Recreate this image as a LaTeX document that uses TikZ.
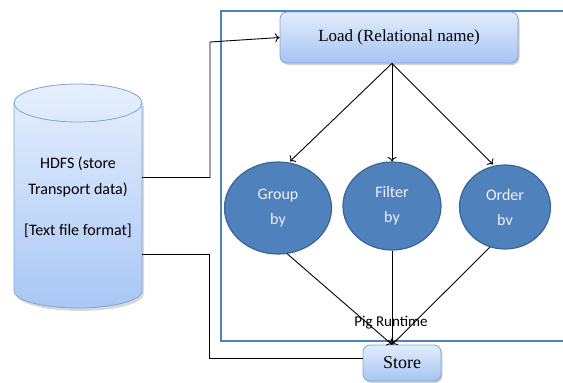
\documentclass[tikz,border=0pt]{standalone}
\usepackage{fontspec}
\setmainfont{Liberation Serif}
\newfontfamily\calib{Carlito}
\usetikzlibrary{shapes.geometric,shadows,arrows.meta}
\definecolor{frameblue}{HTML}{4F81BD}
\definecolor{ellfill}{HTML}{4F81BD}
\definecolor{elldraw}{HTML}{3A6596}
\definecolor{boxtop}{HTML}{E2EDFC}
\definecolor{boxbot}{HTML}{A6C4F3}
\definecolor{boxdraw}{HTML}{7DA3D8}
\definecolor{cyltop}{HTML}{E6F0FD}
\definecolor{cylbot}{HTML}{A9C7F5}
\definecolor{elltext}{HTML}{EEF2F8}
\tikzset{
  procbox/.style={draw=boxdraw, line width=0.8pt, rounded corners=7pt, top color=boxtop, bottom color=boxbot,
    drop shadow={shadow xshift=1.5pt, shadow yshift=-2pt, opacity=0.35, fill=black!50}, inner sep=0pt,
    font=\fontsize{17}{19}\selectfont},
  opnode/.style={ellipse, draw=elldraw, line width=1.2pt, fill=ellfill, inner sep=0pt,
    text=elltext, align=center, font=\calib\fontsize{16}{25}\selectfont},
  conn/.style={draw=black, line width=0.9pt},
  arr/.style={conn, -{To[length=4.5pt,width=9pt]}},
}
\begin{document}
\begin{tikzpicture}[x=1pt,y=-1pt]
\useasboundingbox (0,0) rectangle (563,383);
\clip (0,0) rectangle (563,383);
% Pig Runtime frame
\draw[frameblue, line width=2pt] (575,10.5) -- (221,10.5) -- (221,341) -- (575,341);
% HDFS cylinder
\fill[black, opacity=0.15] (16,106) -- (16,294) arc[start angle=180,end angle=0,x radius=64,y radius=17] -- (144,106) -- cycle;
\shade[top color=cyltop, bottom color=cylbot, draw=boxdraw, line width=0.8pt]
  (14,103) -- (14,291) arc[start angle=180,end angle=0,x radius=64,y radius=17]
  -- (142,103) arc[start angle=0,end angle=-180,x radius=64,y radius=19] -- cycle;
\draw[boxdraw, line width=0.8pt] (14,103) arc[start angle=180,end angle=0,x radius=64,y radius=19];
\node[minimum width=128pt, minimum height=213pt, inner sep=0pt, align=center,
  font=\calib\fontsize{16}{26}\selectfont] (hdfs) at (78,197) {HDFS (store\\Transport data)\\[15pt] [Text file format]};
% nodes
\node[procbox, minimum width=238pt, minimum height=51pt] (load) at (399,37.5) {Load (Relational name)};
\node[opnode, minimum width=107pt, minimum height=92pt] (group) at (278,208) {Group\\by};
\node[opnode, minimum width=98pt, minimum height=88pt] (filter) at (392,206) {Filter\\by};
\node[opnode, minimum width=91pt, minimum height=84pt] (order) at (505,207) {Order\\bv};
\node[procbox, minimum width=78pt, minimum height=36pt, font=\fontsize{18}{20}\selectfont] (store) at (402,363) {Store};
\node[font=\calib\fontsize{15}{17}\selectfont, inner sep=0pt] (pig) at (391,323) {Pig Runtime};
% connectors
\coordinate (lsrc) at (load.south -| filter.center);
\coordinate (stgt) at (store.north -| filter.center);
\draw[arr] (lsrc) -- ([xshift=12pt]group.north);
\draw[arr] (lsrc) -- (filter.north);
\draw[arr] (lsrc) -- ([xshift=-12pt]order.north);
\draw[arr] ([xshift=9pt,yshift=1pt]group.south) -- (stgt);
\draw[arr] (filter.south) -- (stgt);
\draw[arr] ([xshift=-15pt,yshift=2.5pt]order.south) -- (stgt);
\draw[arr] ([yshift=19.5pt]hdfs.east) -| (210,42) -- (load.west);
\draw[conn] ([yshift=-57pt]hdfs.east) -| (209,358) -- (store.west |- 0,358);
\end{tikzpicture}
\end{document}
